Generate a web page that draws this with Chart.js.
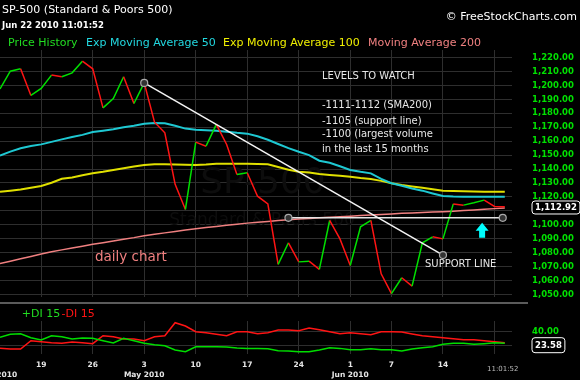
<!DOCTYPE html>
<html>
<head>
<meta charset="utf-8">
<title>SP-500 daily chart</title>
<script src="https://cdn.jsdelivr.net/npm/chart.js@4.4.1/dist/chart.umd.min.js"></script>
<style>
  html, body { margin: 0; padding: 0; background: #000; }
  #wrap { position: relative; width: 580px; height: 380px; overflow: hidden; background: #000; }
  .pane { position: absolute; left: 0; width: 580px; }
</style>
</head>
<body>
<div id="wrap">
  <div class="pane" style="top:0;height:305px"><canvas id="main"></canvas></div>
  <div class="pane" style="top:305px;height:75px"><canvas id="di"></canvas></div>
</div>
<script>
/* SP-500 daily, Apr 13 - Jun 22 2010, price + moving averages + DI */

var FONT = '"DejaVu Sans", Verdana, sans-serif';
var GREEN = '#00e000', RED = '#ff1414', CYAN = '#1ec8d2', YELLOW = '#e0e000', SALMON = '#f08080';
var GRID = '#2e2e2e';

var tradingDays = [
  'Apr 13', 'Apr 14', 'Apr 15', 'Apr 16', 'Apr 19', 'Apr 20', 'Apr 21', 'Apr 22', 'Apr 23',
  'Apr 26', 'Apr 27', 'Apr 28', 'Apr 29', 'Apr 30', 'May 3', 'May 4', 'May 5', 'May 6', 'May 7',
  'May 10', 'May 11', 'May 12', 'May 13', 'May 14', 'May 17', 'May 18', 'May 19', 'May 20', 'May 21',
  'May 24', 'May 25', 'May 26', 'May 27', 'May 28', 'Jun 1', 'Jun 2', 'Jun 3', 'Jun 4',
  'Jun 7', 'Jun 8', 'Jun 9', 'Jun 10', 'Jun 11', 'Jun 14', 'Jun 15', 'Jun 16', 'Jun 17', 'Jun 18',
  'Jun 21', 'Jun 22'
];

var closes = [
  1197.5, 1210.2, 1211.9, 1192.8, 1197.8, 1207.4, 1206.2, 1209.0, 1217.4,
  1211.9, 1183.9, 1190.6, 1206.2, 1187.0, 1201.8, 1173.6, 1166.0, 1129.0, 1111.0,
  1159.3, 1156.4, 1172.0, 1157.6, 1136.1, 1137.3, 1120.5, 1115.0, 1071.6, 1087.1,
  1073.4, 1073.9, 1068.0, 1103.1, 1089.9, 1070.8, 1098.6, 1103.1, 1064.8,
  1050.6, 1062.0, 1056.0, 1087.1, 1091.4, 1089.9, 1115.0, 1114.1, 1115.8, 1117.7,
  1113.2, 1112.92
];

var ema50 = [
  1149.6, 1152.5, 1154.9, 1156.5, 1157.7, 1159.5, 1161.3, 1163.0, 1164.5,
  1166.5, 1167.5, 1168.5, 1170.0, 1171.0, 1172.5, 1173.0, 1172.8, 1171.0, 1169.0,
  1168.2, 1167.8, 1167.5, 1166.8, 1166.0, 1165.4, 1163.5, 1161.0, 1158.0, 1155.0,
  1152.4, 1150.0, 1146.0, 1144.5, 1142.0, 1139.3, 1138.0, 1136.9, 1133.0,
  1129.8, 1128.0, 1126.0, 1124.5, 1122.5, 1120.6, 1120.3, 1120.2, 1120.2, 1120.1,
  1120.1, 1120.1
];

var ema100 = [
  1123.7, 1124.5, 1125.3, 1126.5, 1127.8, 1130.2, 1133.0, 1134.0, 1135.5,
  1136.9, 1138.0, 1139.3, 1140.5, 1141.8, 1142.9, 1143.4, 1143.4, 1143.2, 1143.0,
  1142.9, 1143.2, 1143.8, 1143.8, 1143.8, 1143.8, 1143.6, 1143.4, 1141.5, 1139.5,
  1138.1, 1137.5, 1136.4, 1135.8, 1135.2, 1134.5, 1133.5, 1132.8, 1131.5,
  1129.8, 1128.5, 1127.5, 1126.6, 1125.5, 1124.5, 1124.2, 1124.0, 1123.8, 1123.7,
  1123.7, 1123.7
];

var sma200 = [
  1072.2, 1073.9, 1075.6, 1077.3, 1079.0, 1080.7, 1082.0, 1083.3, 1084.6,
  1086.0, 1087.2, 1088.4, 1089.6, 1090.8, 1092.2, 1093.2, 1094.2, 1095.2, 1096.2,
  1097.2, 1098.0, 1098.8, 1099.6, 1100.4, 1101.2, 1101.8, 1102.4, 1103.0, 1103.6,
  1104.2, 1104.6, 1105.0, 1105.4, 1105.8, 1106.2, 1106.6, 1107.0, 1107.4,
  1107.8, 1108.2, 1108.5, 1108.8, 1109.1, 1109.4, 1109.8, 1110.2, 1110.6, 1111.1,
  1111.6, 1112.1
];

var plusDI = [
  31.6, 36.1, 37.0, 31.0, 27.6, 34.0, 32.5, 29.1, 30.6,
  30.1, 26.6, 23.1, 30.1, 26.6, 22.7, 20.6, 19.1, 12.7, 10.1,
  17.6, 17.6, 17.6, 17.1, 15.7, 15.1, 15.1, 14.6, 11.6, 11.1,
  10.1, 10.1, 12.7, 16.1, 15.1, 13.1, 13.1, 14.6, 13.1,
  13.1, 11.1, 14.1, 16.1, 17.6, 21.1, 22.7, 22.7, 21.1, 22.1,
  23.4, 22.7
];

var minusDI = [
  15.2, 14.2, 14.2, 26.6, 25.1, 23.6, 22.7, 24.6, 23.6,
  22.1, 34.0, 32.5, 29.1, 29.1, 26.6, 32.5, 34.0, 53.4, 48.5,
  40.0, 38.5, 36.1, 34.0, 40.0, 40.0, 37.0, 38.5, 42.5, 42.5,
  41.5, 45.5, 43.0, 40.0, 37.0, 38.5, 37.0, 35.5, 40.0,
  40.0, 39.5, 36.6, 34.0, 32.5, 31.0, 29.6, 28.1, 28.1, 26.6,
  25.1, 23.58
];

var priceTicks = [1220, 1210, 1200, 1190, 1180, 1170, 1160, 1150, 1140,
  1130, 1120, 1110, 1100, 1090, 1080, 1070, 1060, 1050];
var diTicks = [20, 40];
var weekTicks = [-0.2, 4, 9, 14, 19, 24, 29, 34, 38, 43, 48];
var weekLabels = ['', '19', '26', '3', '10', '17', '24', '1', '7', '14', ''];
var monthLabels = ['Apr 2010', '', '', 'May 2010', '', '', '', 'Jun 2010', '', '', ''];

var legendNames = ['Price History', 'Exp Moving Average 50', 'Exp Moving Average 100', 'Moving Average 200'];
var notes = ['LEVELS TO WATCH', '-1111-1112 (SMA200)', '-1105 (support line)', '-1100 (largest volume', 'in the last 15 months'];

var trendLine = [[14, 1201.8], [43, 1078.3]];
var supportLine = [[28, 1105], [48.8, 1105]];
var arrowAt = {x: 46.8, top: 1101.5, bottom: 1090.7};

function xy(arr) { return arr.map(function(v, i) { return {x: i, y: v}; }); }

function fmt2(v) {
  return v.toLocaleString('en-US', {minimumFractionDigits: 2, maximumFractionDigits: 2});
}

function valueBox(ctx, x, yc, text, h) {
  ctx.save();
  ctx.font = 'bold 8.5px ' + FONT;
  var w = ctx.measureText(text).width + 6;
  var y0 = yc - h / 2, r = 3;
  ctx.beginPath();
  ctx.moveTo(x + r, y0);
  ctx.arcTo(x + w, y0, x + w, y0 + h, r);
  ctx.arcTo(x + w, y0 + h, x, y0 + h, r);
  ctx.arcTo(x, y0 + h, x, y0, r);
  ctx.arcTo(x, y0, x + w, y0, r);
  ctx.closePath();
  ctx.fillStyle = '#000';
  ctx.fill();
  ctx.strokeStyle = '#fff';
  ctx.lineWidth = 1;
  ctx.stroke();
  ctx.fillStyle = '#fff';
  ctx.textBaseline = 'middle';
  ctx.textAlign = 'left';
  ctx.fillText(text, x + 3, yc + 0.5);
  ctx.restore();
}

function ring(ctx, x, y) {
  ctx.beginPath();
  ctx.arc(x, y, 3.5, 0, Math.PI * 2);
  ctx.fillStyle = '#333';
  ctx.fill();
  ctx.strokeStyle = '#aaa';
  ctx.lineWidth = 1.2;
  ctx.stroke();
}

function noPad(s) { s.paddingLeft = 0; s.paddingRight = 0; s.paddingTop = 0; s.paddingBottom = 0; }

var blackBg = {
  id: 'blackBg',
  beforeDraw: function(chart) {
    var ctx = chart.ctx;
    ctx.save();
    ctx.fillStyle = '#000';
    ctx.fillRect(0, 0, chart.width, chart.height);
    ctx.restore();
  }
};

var mainDecor = {
  id: 'mainDecor',
  beforeDatasetsDraw: function(chart) {
    // faint watermark behind the lines
    var ctx = chart.ctx;
    ctx.save();
    ctx.textAlign = 'center';
    ctx.textBaseline = 'middle';
    ctx.fillStyle = '#0d0d0d';
    ctx.font = '36px ' + FONT;
    ctx.fillText('SP-500', 263, 184);
    ctx.font = '17px ' + FONT;
    ctx.fillText('Standard & Poors 500', 262, 221);
    ctx.restore();
  },
  afterDatasetsDraw: function(chart) {
    var ctx = chart.ctx, sx = chart.scales.x, sy = chart.scales.y;
    ctx.save();
    [supportLine, trendLine].forEach(function(seg, k) {
      ctx.beginPath();
      ctx.moveTo(sx.getPixelForValue(seg[0][0]), sy.getPixelForValue(seg[0][1]));
      ctx.lineTo(sx.getPixelForValue(seg[1][0]), sy.getPixelForValue(seg[1][1]));
      ctx.strokeStyle = k === 0 ? '#e4e4e4' : '#f4f4f4';
      ctx.lineWidth = 1.5;
      ctx.stroke();
      ring(ctx, sx.getPixelForValue(seg[0][0]), sy.getPixelForValue(seg[0][1]));
      ring(ctx, sx.getPixelForValue(seg[1][0]), sy.getPixelForValue(seg[1][1]));
    });

    // cyan arrow pointing up
    var ax = sx.getPixelForValue(arrowAt.x);
    var at = sy.getPixelForValue(arrowAt.top), ab = sy.getPixelForValue(arrowAt.bottom);
    ctx.beginPath();
    ctx.moveTo(ax, at);
    ctx.lineTo(ax + 6.5, at + 8);
    ctx.lineTo(ax + 3, at + 8);
    ctx.lineTo(ax + 3, ab);
    ctx.lineTo(ax - 3, ab);
    ctx.lineTo(ax - 3, at + 8);
    ctx.lineTo(ax - 6.5, at + 8);
    ctx.closePath();
    ctx.fillStyle = '#00ffff';
    ctx.fill();
    ctx.restore();
  },
  afterDraw: function(chart) {
    var ctx = chart.ctx, sy = chart.scales.y;
    ctx.save();
    ctx.textBaseline = 'middle';
    ctx.textAlign = 'left';

    ctx.fillStyle = '#fff';
    ctx.font = '11px ' + FONT;
    ctx.fillText('SP-500 (Standard & Poors 500)', 2, 10);
    ctx.font = 'bold 8.5px ' + FONT;
    ctx.fillText('Jun 22 2010 11:01:52', 2, 25.5);
    ctx.font = '11px ' + FONT;
    ctx.textAlign = 'right';
    ctx.fillText('\u00a9 FreeStockCharts.com', 577, 17);
    ctx.textAlign = 'left';

    var legX = [8, 86, 223, 368];
    var legC = ['#22dd22', '#22d8e0', '#f0f000', SALMON];
    legendNames.forEach(function(name, i) {
      ctx.fillStyle = legC[i];
      ctx.fillText(name, legX[i], 43.5);
    });

    ctx.fillStyle = '#e6e6e6';
    ctx.font = '10px ' + FONT;
    var noteY = [76, 105, 121, 134.5, 149.5];
    notes.forEach(function(t, i) { ctx.fillText(t, 322, noteY[i]); });
    ctx.fillText('SUPPORT LINE', 425, 264);

    ctx.fillStyle = SALMON;
    ctx.font = '13.5px ' + FONT;
    ctx.fillText('daily chart', 95, 257.5);

    valueBox(ctx, 532, sy.getPixelForValue(closes[closes.length - 1]) + 0.7, fmt2(closes[closes.length - 1]), 13);

    // panel separator
    ctx.beginPath();
    ctx.moveTo(0, 303);
    ctx.lineTo(528, 303);
    ctx.strokeStyle = '#7a7a7a';
    ctx.lineWidth = 1.5;
    ctx.stroke();
    ctx.restore();
  }
};

var diDecor = {
  id: 'diDecor',
  afterDraw: function(chart) {
    var ctx = chart.ctx, sx = chart.scales.x, sy = chart.scales.y;
    ctx.save();
    ctx.textBaseline = 'middle';
    ctx.textAlign = 'left';
    ctx.font = '11px ' + FONT;
    ctx.fillStyle = '#22dd22';
    ctx.fillText('+DI 15', 21.7, 9.5);
    ctx.fillStyle = RED;
    ctx.fillText('-DI 15', 61.5, 9.5);

    ctx.font = '7px ' + FONT;
    ctx.fillStyle = '#bbb';
    ctx.textAlign = 'center';
    ctx.fillText('11:01:52', sx.getPixelForValue(tradingDays.length - 1) - 2, 64);

    valueBox(ctx, 532, sy.getPixelForValue(minusDI[minusDI.length - 1]) + 2.5, fmt2(minusDI[minusDI.length - 1]), 15);
    ctx.restore();
  }
};

function xScale(showLabels) {
  return {
    type: 'linear', min: 0, max: 49.7,
    grid: {color: GRID, drawTicks: false},
    border: {display: false},
    afterBuildTicks: function(s) { s.ticks = weekTicks.map(function(v) { return {value: v}; }); },
    afterFit: function(s) { noPad(s); s.height = showLabels ? 26 : 0; },
    ticks: {
      display: showLabels, autoSkip: false, maxRotation: 0, minRotation: 0, padding: 6,
      color: '#e6e6e6', font: {family: FONT, size: 7.5, weight: 'bold', lineHeight: 1.34},
      callback: function(v, i) { return [weekLabels[i], monthLabels[i]]; }
    }
  };
}

function yScale(min, max, tickVals, labelFn) {
  return {
    position: 'right', min: min, max: max,
    grid: {color: GRID, drawTicks: false},
    border: {display: false},
    afterBuildTicks: function(s) { s.ticks = tickVals.map(function(v) { return {value: v}; }); },
    afterFit: function(s) { noPad(s); s.width = 68; },
    ticks: {
      padding: 20, color: GREEN,
      font: {family: FONT, size: 8.5, weight: 'bold'},
      callback: labelFn
    }
  };
}

Chart.defaults.font.family = FONT;

new Chart(document.getElementById('main'), {
  type: 'line',
  data: {datasets: [
    {data: xy(closes), borderWidth: 1.5, pointRadius: 0, tension: 0, borderColor: GREEN,
      segment: {borderColor: function(c) { return c.p1.parsed.y >= c.p0.parsed.y ? GREEN : RED; }}},
    {data: xy(ema50), borderColor: CYAN, borderWidth: 2, pointRadius: 0},
    {data: xy(ema100), borderColor: YELLOW, borderWidth: 2, pointRadius: 0},
    {data: xy(sma200), borderColor: SALMON, borderWidth: 1.5, pointRadius: 0}
  ]},
  options: {
    responsive: true, maintainAspectRatio: false, animation: false, events: [],
    layout: {padding: {top: 50, bottom: 8, left: 0, right: 0}},
    plugins: {legend: {display: false}, tooltip: {enabled: false}},
    scales: {
      x: xScale(false),
      y: yScale(1048.2, 1225.4, priceTicks, function(v) { return fmt2(v); })
    }
  },
  plugins: [blackBg, mainDecor]
});

new Chart(document.getElementById('di'), {
  type: 'line',
  data: {datasets: [
    {data: xy(plusDI), borderColor: '#00dd00', borderWidth: 1.5, pointRadius: 0},
    {data: xy(minusDI), borderColor: RED, borderWidth: 1.5, pointRadius: 0}
  ]},
  options: {
    responsive: true, maintainAspectRatio: false, animation: false, events: [],
    layout: {padding: {top: 16, bottom: 0, left: 0, right: 0}},
    plugins: {legend: {display: false}, tooltip: {enabled: false}},
    scales: {
      x: xScale(true),
      y: yScale(6.7, 56, diTicks, function(v) { return v === 40 ? fmt2(v) : ''; })
    }
  },
  plugins: [blackBg, diDecor]
});
</script>
</body>
</html>
